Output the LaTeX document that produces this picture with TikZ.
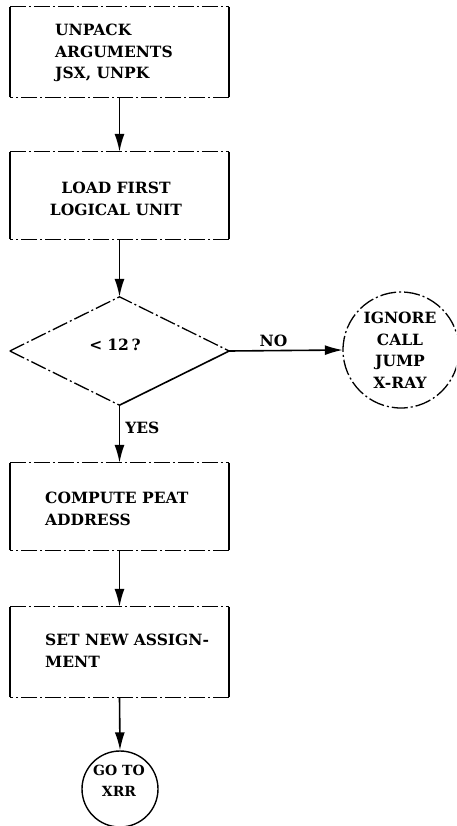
\documentclass[tikz,border=0pt]{standalone}
\usepackage{fontspec}
\setmainfont{DejaVu Serif}
\usetikzlibrary{arrows.meta,shapes.geometric}
\tikzset{
  lbl/.style={font=\bfseries\fontsize{15.5}{21.5}\selectfont, inner sep=0pt},
  box/.style={minimum width=219pt, inner sep=0pt},
  edge/.style={line width=1.6pt},
  dashedge/.style={line width=1.3pt, dash pattern=on 16pt off 3pt on 2pt off 3pt},
  flow/.style={line width=1.6pt, -{Latex[length=18pt,width=10pt]}},
}
\newcommand{\frameprocess}[1]{%
  \draw[dashedge] (#1.north west) -- (#1.north east);
  \draw[edge] (#1.north east) -- (#1.south east);
  \draw[dashedge] (#1.south east) -- (#1.south west);
  \draw[edge] (#1.south west) -- (#1.north west);
}
\begin{document}
\begin{tikzpicture}[x=1pt,y=-1pt]
\clip (0,0) rectangle (456,826);
\fill[white] (0,0) rectangle (456,826);

% process boxes
\node[box, minimum height=90pt] (unpack) at (119.5,52) {};
\node[box, minimum height=87pt] (load) at (119.5,195.5) {};
\node[box, minimum height=87pt] (peat) at (119.5,506.5) {};
\node[box, minimum height=90pt] (assign) at (119.5,652) {};
\frameprocess{unpack}
\frameprocess{load}
\frameprocess{peat}
\frameprocess{assign}

% box texts
\node[lbl, align=left, anchor=north west] (t1) at (55,24) {UNPACK\\ARGUMENTS\\JSX, UNPK};
\node[lbl, align=center] (t2) at (116,199) {LOAD FIRST\\LOGICAL UNIT};
\node[lbl, align=left, anchor=north west] (t3) at (45,492) {COMPUTE PEAT\\ADDRESS};
\node[lbl, align=left, anchor=north west] (t4) at (45,634) {SET NEW ASSIGN-\\MENT};

% decision
\node[diamond, minimum width=219pt, minimum height=108pt, inner sep=0pt] (test) at (119.5,351) {};
\draw[dashedge] (test.west) -- (test.north) -- (test.east);
\draw[dashedge] (test.west) -- (test.south);
\draw[edge] (test.south) -- (test.east);
\node[lbl] (cond) at (115,345) {<\,\,12\,?};

% terminals
\node[circle, minimum size=116pt, inner sep=0pt] (ignore) at (401,350) {};
\draw[dashedge] (ignore) circle[radius=58pt];
\node[lbl, align=center] (ignoretxt) at (400,350) {IGNORE\\CALL\\JUMP\\X-RAY};
\node[circle, draw, line width=1.4pt, minimum size=76pt, inner sep=0pt] (goto) at (120,789) {};
\node[lbl, font=\bfseries\fontsize{14}{21.5}\selectfont, align=center] (gototxt) at (119,781) {GO TO\\XRR};

% flow lines
\draw[flow] (unpack.south) -- (load.north);
\draw[flow] (load.south) -- (test.north);
\draw[flow] (test.east) -- node[lbl, above=3pt, pos=0.39] (no) {NO} (ignore.west);
\draw[flow] (test.south) -- node[lbl, right=5pt, pos=0.4] (yes) {YES} (peat.north);
\draw[flow] (peat.south) -- (assign.north);
\draw[flow] (assign.south) -- (goto.north);
\end{tikzpicture}
\end{document}
